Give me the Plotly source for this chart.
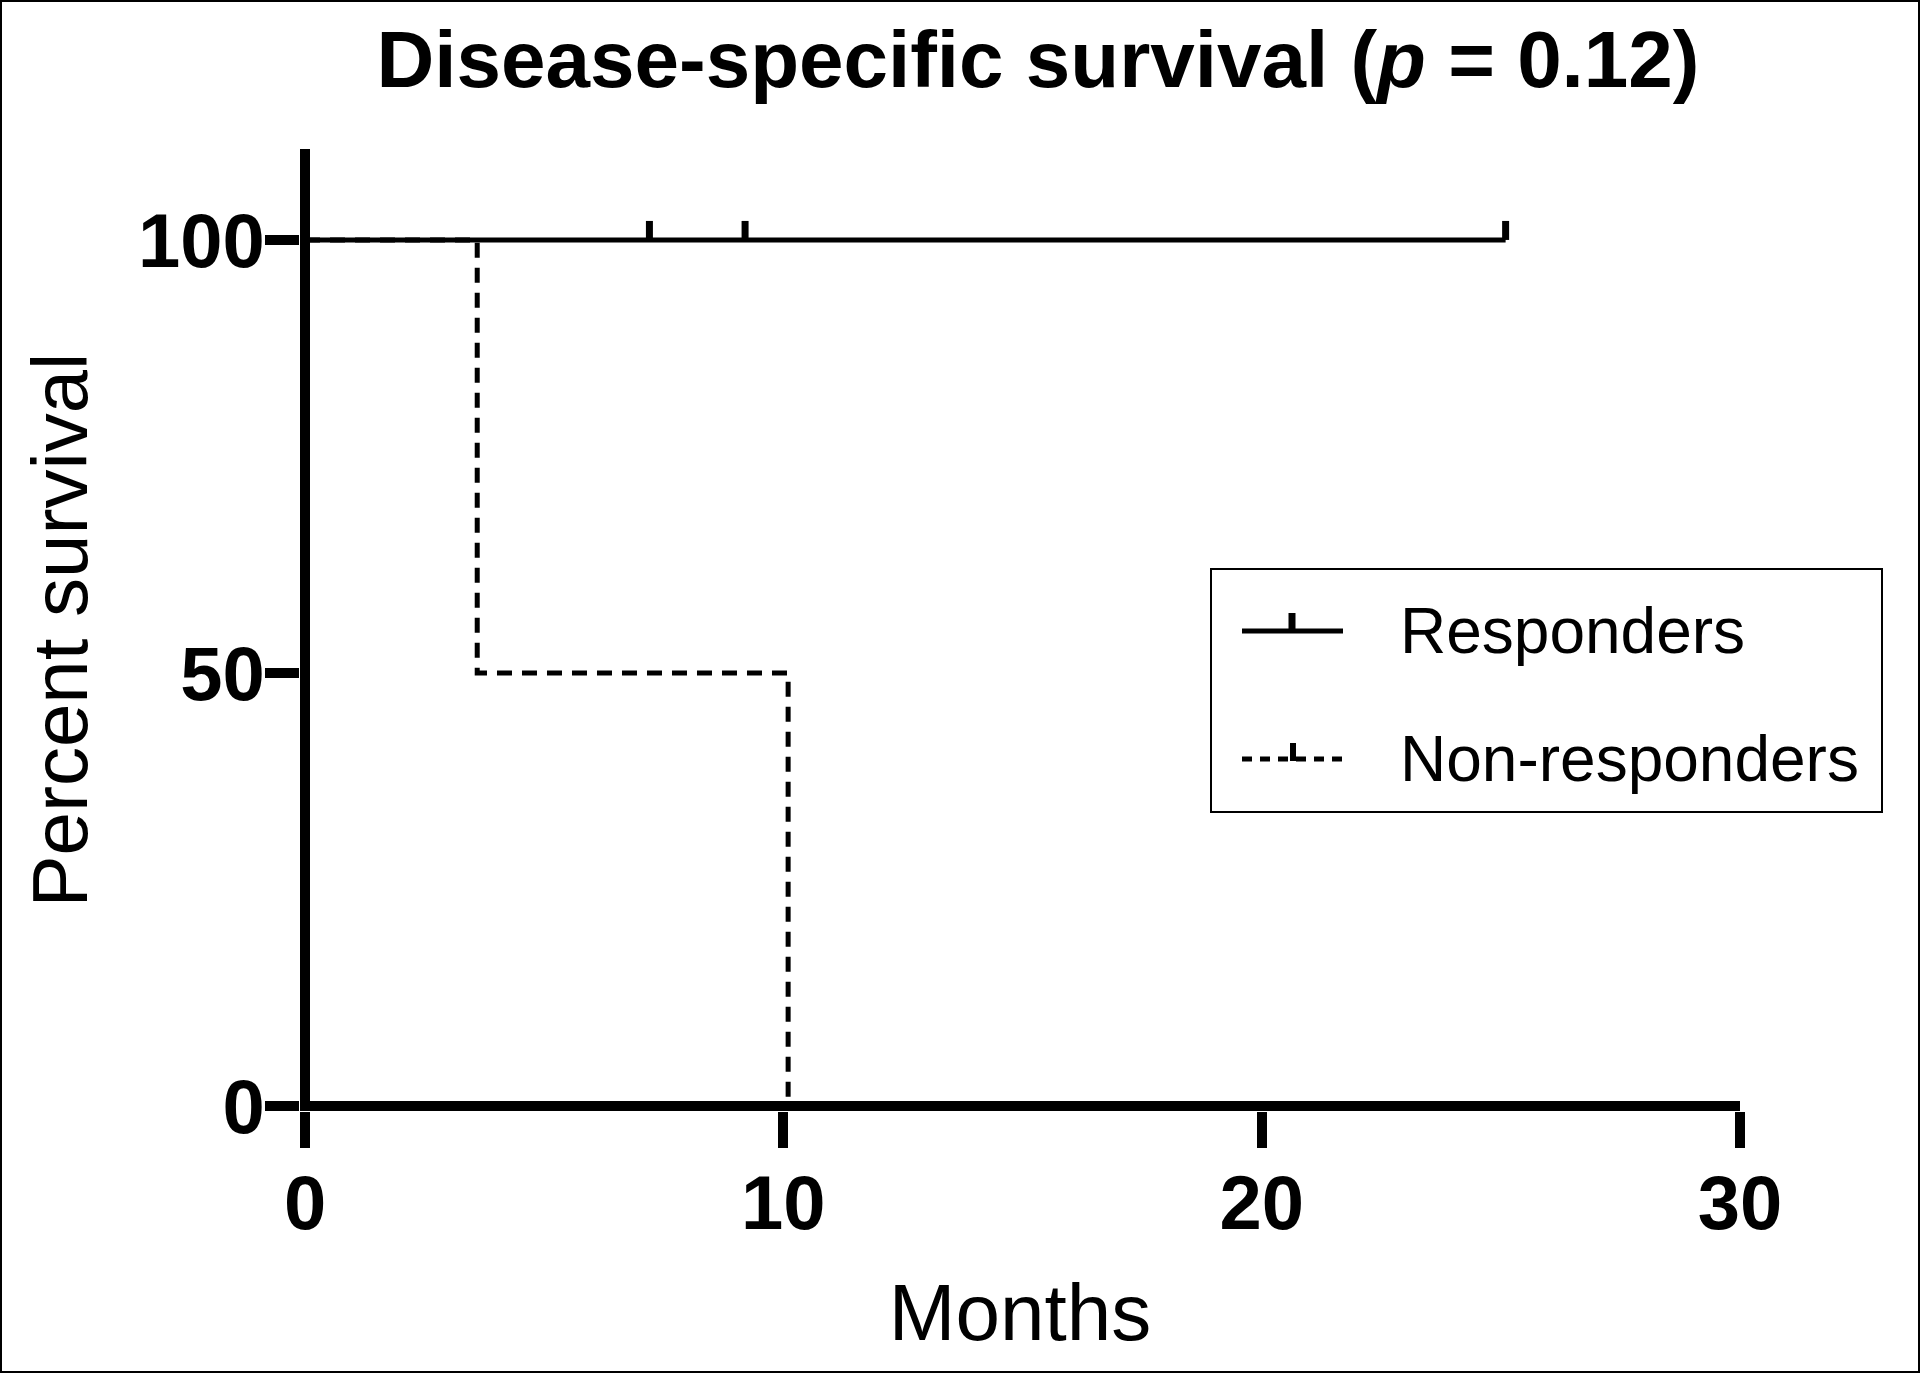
import plotly.graph_objects as go

# Data (months, percent survival)
resp_times = [0, 25.1]
resp_surv = [100, 100]
resp_censor = [7.2, 9.2, 25.1]
nonresp_times = [0, 3.6, 10.1]
nonresp_surv = [100, 50, 0]
series_names = ["Responders", "Non-responders"]
x_ticks = [0, 10, 20, 30]
y_ticks = [0, 50, 100]

FONT = "Liberation Sans, Arial, sans-serif"
W, H = 1920, 1373
L, R, T, B = 300, 180, 149, 262
PW, PH = W - L - R, H - T - B
X_RANGE = [-0.105, 30]
Y_RANGE = [-0.577, 110.5]
cens_h = 19 * (Y_RANGE[1] - Y_RANGE[0]) / PH

fig = go.Figure()
fig.add_trace(go.Scatter(x=resp_times, y=resp_surv, mode="lines",
                         line=dict(color="black", width=5),
                         name=series_names[0], showlegend=False, cliponaxis=False))
cx, cy = [], []
for t in resp_censor:
    cx += [t, t, None]
    cy += [100, 100 + cens_h, None]
fig.add_trace(go.Scatter(x=cx, y=cy, mode="lines", line=dict(color="black", width=7),
                         showlegend=False, hoverinfo="skip", cliponaxis=False))
fig.add_trace(go.Scatter(x=nonresp_times, y=nonresp_surv, mode="lines", line_shape="hv",
                         line=dict(color="black", width=5, dash="15px,10px"),
                         name=series_names[1], showlegend=False, cliponaxis=False))


def px(x):
    return (x - L) / PW


def py(y):
    return (H - B - y) / PH


shapes = []
# outer border
shapes.append(dict(type="rect", xref="paper", yref="paper", x0=px(1), x1=px(W - 1), y0=py(1), y1=py(H - 1),
                   line=dict(color="black", width=2)))
# legend box
shapes.append(dict(type="rect", xref="paper", yref="paper", x0=px(1211), x1=px(1882), y0=py(569), y1=py(812),
                   line=dict(color="black", width=2), fillcolor="white", layer="above"))
# legend samples
shapes.append(dict(type="line", xref="paper", yref="paper", x0=px(1242), x1=px(1343), y0=py(631), y1=py(631),
                   line=dict(color="black", width=5)))
shapes.append(dict(type="line", xref="paper", yref="paper", x0=px(1292), x1=px(1292), y0=py(631), y1=py(613),
                   line=dict(color="black", width=7)))
shapes.append(dict(type="line", xref="paper", yref="paper", x0=px(1242), x1=px(1343), y0=py(759), y1=py(759),
                   line=dict(color="black", width=5, dash="10px,8px")))
shapes.append(dict(type="line", xref="paper", yref="paper", x0=px(1293), x1=px(1293), y0=py(761), y1=py(743),
                   line=dict(color="black", width=6)))

annotations = [
    dict(text=series_names[0], xref="paper", yref="paper", x=px(1398), y=py(631), xanchor="left", yanchor="middle",
         showarrow=False, font=dict(family=FONT, size=64, color="black")),
    dict(text=series_names[1], xref="paper", yref="paper", x=px(1398), y=py(759), xanchor="left", yanchor="middle",
         showarrow=False, font=dict(family=FONT, size=64, color="black")),
]

fig.update_layout(
    width=W, height=H,
    margin=dict(l=L, r=R, t=T, b=B, autoexpand=False),
    paper_bgcolor="white", plot_bgcolor="white",
    title=dict(text="<b>Disease-specific survival (<i>p</i> = 0.12)</b>", x=1038 / W, xanchor="center",
               y=1 - 59 / H, yanchor="middle", font=dict(family=FONT, size=80, color="black")),
    shapes=shapes, annotations=annotations, showlegend=False,
)
fig.update_xaxes(range=X_RANGE, tickvals=x_ticks, showgrid=False,
                 zeroline=True, zerolinecolor="black", zerolinewidth=10,
                 showline=False, ticks="outside", ticklen=36, tickwidth=10, ticklabelstandoff=-10,
                 tickcolor="black", tickfont=dict(family=FONT, size=76, color="black", weight="bold"),
                 title=dict(text="Months", font=dict(family=FONT, size=80, color="black"), standoff=39))
fig.update_yaxes(range=Y_RANGE, tickvals=y_ticks, showgrid=False,
                 zeroline=True, zerolinecolor="black", zerolinewidth=10,
                 showline=False, ticks="outside", ticklen=34, tickwidth=10, ticklabelstandoff=-15,
                 tickcolor="black", tickfont=dict(family=FONT, size=76, color="black", weight="bold"),
                 title=dict(text="Percent survival", font=dict(family=FONT, size=78, color="black"), standoff=24))

fig.write_html("out.html", config={"displayModeBar": False},
               post_script="document.body.style.margin='0px';")
